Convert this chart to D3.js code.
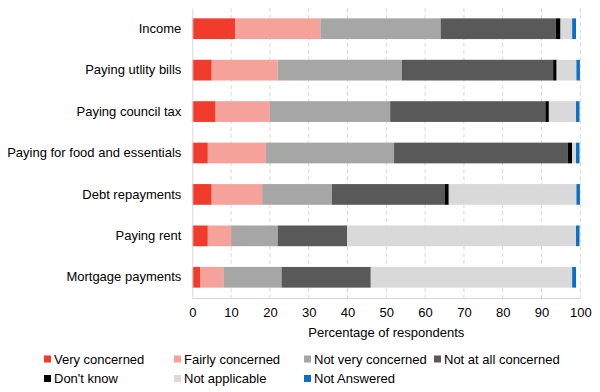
<!DOCTYPE html>
<html><head><meta charset="utf-8">
<script src="https://cdn.jsdelivr.net/npm/d3@7"></script>
<style>body{margin:0;background:#fff;}svg{display:block;font-family:"Liberation Sans",Arial,sans-serif;}</style>
</head><body><svg id="c" width="600" height="392"></svg>
<script>
const categories = ["Income","Paying utlity bills","Paying council tax","Paying for food and essentials","Debt repayments","Paying rent","Mortgage payments"];
const seriesNames = ["Very concerned","Fairly concerned","Not very concerned","Not at all concerned","Don't know","Not applicable","Not Answered"];
const veryConcerned     = [11, 5, 6, 4, 5, 4, 2];
const fairlyConcerned   = [22, 17, 14, 15, 13, 6, 6];
const notVeryConcerned  = [31, 32, 31, 33, 18, 12, 15];
const notAtAllConcerned = [29.7, 39, 40, 44.8, 29, 17.9, 23];
const dontKnow          = [1.2, 0.9, 0.9, 1.1, 1.1, 0, 0];
const notApplicable     = [3, 5.1, 7, 1, 32.9, 59, 51.9];
const notAnswered       = [1, 0.9, 0.9, 0.9, 0.9, 0.9, 1];
const xTicks = [0,10,20,30,40,50,60,70,80,90,100];
const colors = ["#F03B2D","#F5A29B","#A6A6A6","#595959","#000000","#D9D9D9","#0A70C6"];

(function(){
const seriesValues = [veryConcerned,fairlyConcerned,notVeryConcerned,notAtAllConcerned,dontKnow,notApplicable,notAnswered];
const rows = categories.map((c,i)=>{const o={cat:c}; seriesNames.forEach((s,j)=>o[s]=seriesValues[j][i]); return o;});
const stacked = d3.stack().keys(seriesNames)(rows);
const FS = 13;
const svg = d3.select("#c");
const pLeft=192.3, pRight=580.3, pTop=8, pBottom=298;
const x = d3.scaleLinear().domain([0,100]).range([pLeft,pRight]);
const y = d3.scaleBand().domain(categories).range([pTop,pBottom]).paddingInner(0.5).paddingOuter(0.25);

svg.append("g").selectAll("line").data(xTicks.slice(1)).join("line")
  .attr("x1",d=>x(d)).attr("x2",d=>x(d)).attr("y1",pTop).attr("y2",pBottom)
  .attr("stroke","#D9D9D9").attr("stroke-dasharray","4,3").attr("stroke-width",1);

svg.append("g").selectAll("g").data(stacked).join("g").attr("fill",(d,i)=>colors[i])
  .selectAll("rect").data(d=>d).join("rect")
  .attr("x",d=>x(d[0])).attr("width",d=>Math.max(0,x(d[1])-x(d[0])))
  .attr("y",d=>y(d.data.cat)).attr("height",y.bandwidth());

const xAxis = svg.append("g").attr("transform",`translate(0,${pBottom})`)
  .call(d3.axisBottom(x).tickValues(xTicks).tickSize(0).tickPadding(10));
xAxis.select(".domain").attr("stroke","#D9D9D9");
xAxis.selectAll("text").attr("font-size",FS).attr("fill","#000").attr("font-family","Liberation Sans, Arial, sans-serif");

const yAxis = svg.append("g").attr("transform",`translate(${pLeft},0)`)
  .call(d3.axisLeft(y).tickSize(0).tickPadding(11));
yAxis.select(".domain").attr("stroke","#D9D9D9");
yAxis.selectAll("text").attr("font-size",FS).attr("fill","#000").attr("font-family","Liberation Sans, Arial, sans-serif");

svg.append("text").attr("x",(pLeft+pRight)/2).attr("y",332.5).attr("dy","0.35em").attr("text-anchor","middle")
  .attr("font-size",FS).text("Percentage of respondents");

const legX = [44,174,304,434];
const legY = [359,378.5];
const leg = svg.append("g");
seriesNames.forEach((s,i)=>{
  const lx = legX[i%4], ly = legY[Math.floor(i/4)];
  leg.append("rect").attr("x",lx).attr("y",ly-3.5).attr("width",7).attr("height",7).attr("fill",colors[i]);
  leg.append("text").attr("x",lx+10).attr("y",ly).attr("dy","0.35em").attr("font-size",FS).text(s);
});
})();
</script></body></html>
